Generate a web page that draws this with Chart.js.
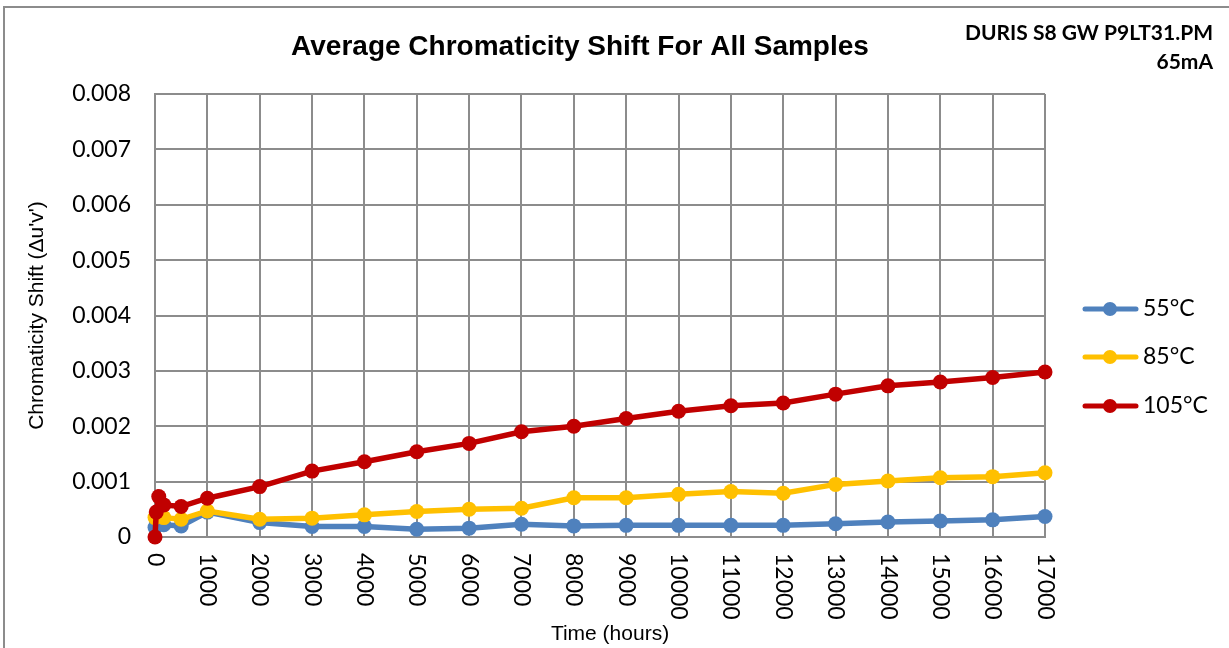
<!DOCTYPE html>
<html>
<head>
<meta charset="utf-8">
<script src="https://cdn.jsdelivr.net/npm/chart.js@4.4.1/dist/chart.umd.min.js"></script>
<style>
    html, body { margin: 0; padding: 0; background: #fff; }
    #wrap { position: relative; width: 1229px; height: 648px; }
</style>
</head>
<body>
<div id="wrap"><canvas id="chart" width="1229" height="648"></canvas></div>
<script>
// Data
const hours = [0, 24, 72, 168, 500, 1000, 2000, 3000, 4000, 5000, 6000, 7000, 8000, 9000,
    10000, 11000, 12000, 13000, 14000, 15000, 16000, 17000];
const shift55 = [0.00017, 0.00022, 0.00025, 0.00022, 0.0002, 0.00045, 0.00026, 0.00019, 0.00019,
    0.00014, 0.00016, 0.00023, 0.0002, 0.00021, 0.00021, 0.00021, 0.00021, 0.00024, 0.00027,
    0.00029, 0.00031, 0.00037];
const shift85 = [0.00035, 0.0004, 0.00042, 0.00035, 0.00032, 0.00047, 0.00032, 0.00034, 0.0004,
    0.00046, 0.0005, 0.00052, 0.00071, 0.00071, 0.00077, 0.00082, 0.00079, 0.00095, 0.00101,
    0.00107, 0.00109, 0.00116];
const shift105 = [0, 0.00045, 0.00073, 0.00058, 0.00055, 0.0007, 0.00091, 0.00119, 0.00136,
    0.00154, 0.00169, 0.0019, 0.002, 0.00214, 0.00227, 0.00237, 0.00242, 0.00258, 0.00273,
    0.0028, 0.00288, 0.00298];

const seriesNames = ['55°C', '85°C', '105°C'];
const seriesColors = ['#4F81BD', '#FFC000', '#C00000'];
const xTickLabels = ['0', '1000', '2000', '3000', '4000', '5000', '6000', '7000', '8000', '9000',
    '10000', '11000', '12000', '13000', '14000', '15000', '16000', '17000'];
const yTickLabels = ['0', '0.001', '0.002', '0.003', '0.004', '0.005', '0.006', '0.007', '0.008'];

const chartTitle = 'Average Chromaticity Shift For All Samples';
const noteLines = ['DURIS S8 GW P9LT31.PM', '65mA'];
const xTitle = 'Time (hours)';
const yTitle = "Chromaticity Shift (Δu'v')";

const gridColor = '#8c8c8c';

function toPoints(values) {
    return hours.map((h, i) => ({ x: h, y: values[i] }));
}

const allSeries = [shift55, shift85, shift105];

const datasets = allSeries.map((values, i) => ({
    label: seriesNames[i],
    data: toPoints(values),
    borderColor: seriesColors[i],
    backgroundColor: seriesColors[i],
    borderWidth: 5.5,
    pointRadius: 7.5,
    pointBorderWidth: 0,
    pointHoverRadius: 7.5,
    showLine: true,
    tension: 0,
    clip: false,
    order: 3 - i
}));

// Extra drawing: frame, titles, rotated x labels, legend
const decorations = {
    id: 'decorations',
    afterDraw(chart) {
        const ctx = chart.ctx;
        const area = chart.chartArea;
        const xScale = chart.scales.x;

        ctx.save();

        // outer frame
        ctx.strokeStyle = gridColor;
        ctx.lineWidth = 2;
        ctx.strokeRect(4, 7, 1260, 700);

        ctx.fillStyle = '#000';

        // main title
        ctx.font = 'bold 28px "Liberation Sans", Arial, sans-serif';
        ctx.textAlign = 'center';
        ctx.textBaseline = 'middle';
        ctx.fillText(chartTitle, 580, 47);

        // note at top right
        ctx.font = 'bold 21px Lato, "Open Sans", sans-serif';
        ctx.textAlign = 'right';
        ctx.fillText(noteLines[0], 1213, 33);
        ctx.fillText(noteLines[1], 1213, 62);

        // x tick labels, turned clockwise
        ctx.font = '23px Lato, "Open Sans", sans-serif';
        xScale.ticks.forEach((tick, i) => {
            const x = xScale.getPixelForValue(tick.value);
            ctx.save();
            ctx.translate(x, area.bottom + 16);
            ctx.rotate(Math.PI / 2);
            ctx.textAlign = 'left';
            ctx.textBaseline = 'middle';
            ctx.fillText(xTickLabels[i], 0, 0);
            ctx.restore();
        });

        // axis titles
        ctx.font = '21px "Liberation Sans", Arial, sans-serif';
        ctx.textAlign = 'center';
        ctx.textBaseline = 'middle';
        ctx.fillText(xTitle, 610, 634);

        ctx.save();
        ctx.translate(37, (area.top + area.bottom) / 2);
        ctx.rotate(-Math.PI / 2);
        ctx.fillText(yTitle, 0, 0);
        ctx.restore();

        // legend
        const legendY = [309, 357, 406];
        ctx.font = '23px Lato, "Open Sans", sans-serif';
        ctx.textAlign = 'left';
        chart.data.datasets.forEach((ds, i) => {
            const y = legendY[i];
            ctx.strokeStyle = ds.borderColor;
            ctx.lineWidth = 5;
            ctx.lineCap = 'round';
            ctx.beginPath();
            ctx.moveTo(1085, y);
            ctx.lineTo(1136, y);
            ctx.stroke();
            ctx.fillStyle = ds.backgroundColor;
            ctx.beginPath();
            ctx.arc(1110, y, 7, 0, Math.PI * 2);
            ctx.fill();
            ctx.fillStyle = '#000';
            ctx.fillText(ds.label, 1143, y);
        });

        ctx.restore();
    }
};

const ctx = document.getElementById('chart').getContext('2d');

new Chart(ctx, {
    type: 'scatter',
    data: { datasets: datasets },
    options: {
        responsive: false,
        animation: false,
        layout: {
            padding: { left: 0, top: 94, right: 184, bottom: 0 }
        },
        plugins: {
            legend: { display: false },
            title: { display: false },
            tooltip: { enabled: false }
        },
        scales: {
            x: {
                type: 'linear',
                min: 0,
                max: 17000,
                ticks: {
                    display: false,
                    stepSize: 1000
                },
                grid: {
                    color: gridColor,
                    lineWidth: 2,
                    drawTicks: false
                },
                border: { color: gridColor, width: 2 },
                afterFit: function(scale) {
                    scale.height = 111;
                }
            },
            y: {
                min: 0,
                max: 0.008,
                ticks: {
                    stepSize: 0.001,
                    padding: 24,
                    color: '#000',
                    font: { family: 'Lato, "Open Sans", sans-serif', size: 23 },
                    callback: function(value, index) {
                        return yTickLabels[index];
                    }
                },
                grid: {
                    color: gridColor,
                    lineWidth: 2,
                    drawTicks: false
                },
                border: { color: gridColor, width: 2 },
                afterFit: function(scale) {
                    scale.width = 155;
                }
            }
        }
    },
    plugins: [decorations]
});
</script>
</body>
</html>
